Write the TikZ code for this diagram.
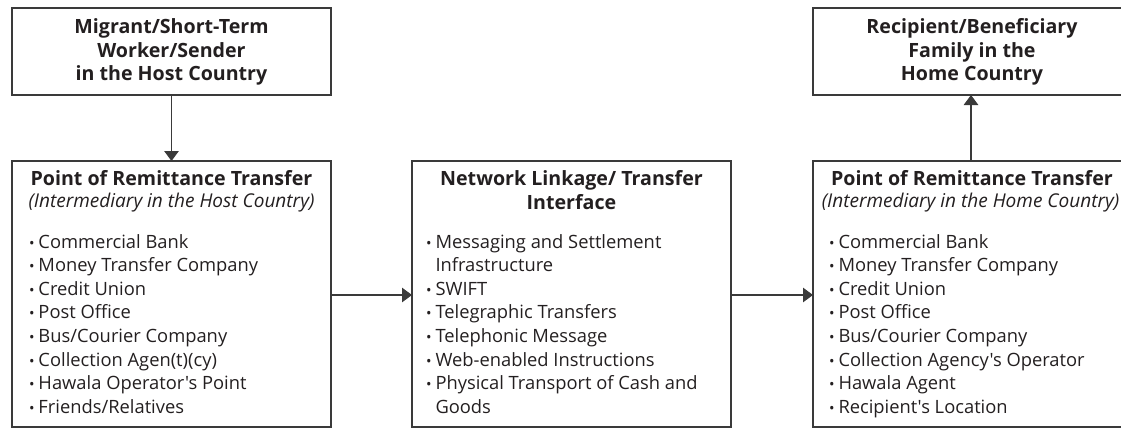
\documentclass[tikz,border=0pt]{standalone}
\usepackage{fontspec}
\usepackage{graphicx}
\newfontfamily\osf{Open Sans}
\usetikzlibrary{arrows.meta}
\definecolor{ink}{HTML}{231F20}
\definecolor{edge}{HTML}{3A3A3A}
\tikzset{
  box/.style={draw=edge, line width=1.1bp, inner sep=0pt},
  ttl/.style={anchor=base, font=\osf\fontsize{19.7}{22}\selectfont\bfseries, text=ink, inner sep=0pt},
  sub/.style={anchor=base, font=\osf\fontsize{19.1}{22}\selectfont\itshape, text=ink, inner sep=0pt},
  itm/.style={anchor=base west, font=\osf\fontsize{18.4}{22}\selectfont, text=ink, inner sep=0pt},
  conn/.style={draw=edge, line width=1.1bp, -{Triangle[length=10bp,width=14.5bp]}},
}
\newcommand{\bul}{\makebox[9.3bp][l]{\scalebox{0.8}{•}}}
\begin{document}
\begin{tikzpicture}[x=1bp,y=-1bp]
\useasboundingbox (0,0) rectangle (1121,429);
\begin{scope}
\clip (0,0) rectangle (1121,429);
% boxes
\draw[box] (12,8) rectangle (331,95);
\coordinate (sendTop) at (171.5,95);
\draw[box] (813,8) rectangle (1132,95);
\coordinate (recvBot) at (971,95);
\draw[box] (12,161) rectangle (331,427);
\draw[box] (412,161) rectangle (731,427);
\draw[box] (813,161) rectangle (1132,427);
\end{scope}
\coordinate (hostTop) at (171.5,161);
\coordinate (homeTop) at (971,161);
\coordinate (hostR) at (331,295);
\coordinate (netL) at (412,295);
\coordinate (netR) at (731,295);
\coordinate (homeL) at (813,295);
% top texts
\node[ttl] (s1) at (171.5,33) {Migrant/Short-Term};
\node[ttl] (s2) at (171.5,57) {Worker/Sender};
\node[ttl] (s3) at (171.5,80.5) {in the Host Country};
\node[ttl] (r1) at (972,33) {Recipient/Beneficiary};
\node[ttl] (r2) at (972,57) {Family in the};
\node[ttl] (r3) at (972,80.5) {Home Country};
% host box
\node[ttl] (h1) at (171.5,185) {Point of Remittance Transfer};
\node[sub] (h2) at (171.5,207) {(Intermediary in the Host Country)};
\foreach \t [count=\i] in {Commercial Bank,Money Transfer Company,Credit Union,Post Office,Bus/Courier Company,Collection Agen(t)(cy),Hawala Operator's Point,Friends/Relatives}
  \node[itm] (hi\i) at (29,248+23.6*\i-23.6) {\bul\t};
% network box
\node[ttl] (n1) at (571.5,185) {Network Linkage/ Transfer};
\node[ttl] (n2) at (571.5,209.5) {Interface};
\node[itm] (ni1) at (426,248) {\bul Messaging and Settlement};
\node[itm] (ni2) at (426,271.6) {\hphantom{\bul}Infrastructure};
\node[itm] (ni3) at (426,295.2) {\bul SWIFT};
\node[itm] (ni4) at (426,318.8) {\bul Telegraphic Transfers};
\node[itm] (ni5) at (426,342.4) {\bul Telephonic Message};
\node[itm] (ni6) at (426,366) {\bul Web-enabled Instructions};
\node[itm] (ni7) at (426,389.6) {\bul Physical Transport of Cash and};
\node[itm] (ni8) at (426,413.2) {\hphantom{\bul}Goods};
% home box
\node[ttl] (m1) at (972,185) {Point of Remittance Transfer};
\node[sub] (m2) at (970.5,207) {(Intermediary in the Home Country)};
\foreach \t [count=\i] in {Commercial Bank,Money Transfer Company,Credit Union,Post Office,Bus/Courier Company,Collection Agency's Operator,Hawala Agent,Recipient's Location}
  \node[itm] (mi\i) at (829,248+23.6*\i-23.6) {\bul\t};
% connectors
\draw[conn] (sendTop) -- (hostTop);
\draw[conn] (homeTop) -- (recvBot);
\draw[conn] (hostR) -- (netL);
\draw[conn] (netR) -- (homeL);
\end{tikzpicture}
\end{document}
